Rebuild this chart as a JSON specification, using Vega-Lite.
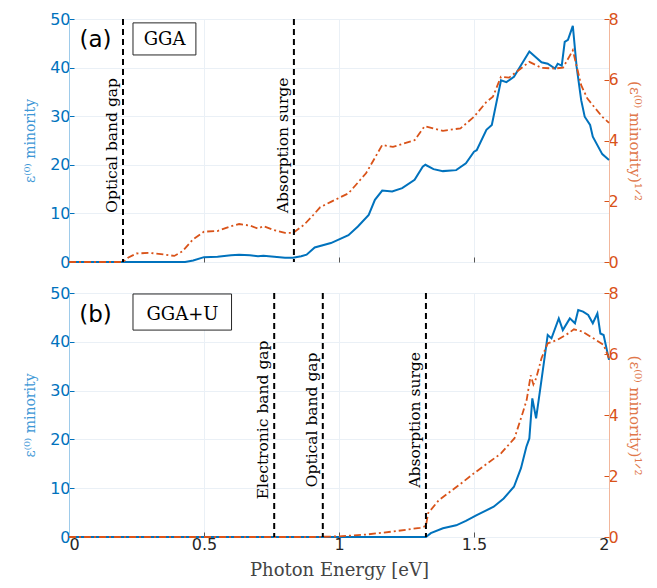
{
  "$schema": "https://vega.github.io/schema/vega-lite/v6.json",
  "padding": {"left": 23, "top": 10, "right": 2, "bottom": 0},
  "background": "white",
  "spacing": 13,
  "config": {
    "view": {"stroke": "#9a9a9a", "strokeWidth": 1},
    "axis": {"labelFont": "DejaVu Sans", "labelFontSize": 16, "grid": false, "tickSize": -5, "labelPadding": 4}
  },
  "datasets": {
    "a_blue": [
      {"E":0,"v":0},{"E":0.2,"v":0},{"E":0.43,"v":0},{"E":0.46,"v":0.3},{"E":0.5,"v":1.0},{"E":0.55,"v":1.1},{"E":0.6,"v":1.4},{"E":0.63,"v":1.5},{"E":0.67,"v":1.4},{"E":0.7,"v":1.2},{"E":0.72,"v":1.3},{"E":0.76,"v":1.1},{"E":0.8,"v":0.9},{"E":0.83,"v":0.9},{"E":0.86,"v":1.2},{"E":0.88,"v":1.5},{"E":0.91,"v":3.0},{"E":0.97,"v":3.9},{"E":1.035,"v":5.5},{"E":1.07,"v":7.3},{"E":1.11,"v":9.7},{"E":1.133,"v":12.8},{"E":1.16,"v":14.7},{"E":1.197,"v":14.5},{"E":1.234,"v":15.2},{"E":1.28,"v":16.9},{"E":1.31,"v":19.6},{"E":1.32,"v":20},{"E":1.35,"v":19.1},{"E":1.385,"v":18.7},{"E":1.434,"v":18.9},{"E":1.47,"v":20.3},{"E":1.5,"v":22.7},{"E":1.51,"v":23},{"E":1.546,"v":27.2},{"E":1.566,"v":28.2},{"E":1.6,"v":37.4},{"E":1.62,"v":37},{"E":1.648,"v":38.1},{"E":1.705,"v":43.3},{"E":1.75,"v":41.1},{"E":1.773,"v":40.8},{"E":1.8,"v":39.8},{"E":1.81,"v":40.8},{"E":1.825,"v":40.4},{"E":1.836,"v":45.3},{"E":1.848,"v":45.7},{"E":1.866,"v":48.6},{"E":1.88,"v":40.2},{"E":1.897,"v":33.3},{"E":1.91,"v":29.9},{"E":1.93,"v":28.2},{"E":1.94,"v":25.8},{"E":1.975,"v":22.2},{"E":2.0,"v":21}
    ],
    "a_orange": [
      {"E":0,"s":0},{"E":0.2,"s":0},{"E":0.22,"s":0.15},{"E":0.25,"s":0.28},{"E":0.3,"s":0.3},{"E":0.35,"s":0.25},{"E":0.39,"s":0.2},{"E":0.42,"s":0.35},{"E":0.46,"s":0.75},{"E":0.5,"s":1.0},{"E":0.55,"s":1.02},{"E":0.6,"s":1.18},{"E":0.63,"s":1.25},{"E":0.67,"s":1.2},{"E":0.7,"s":1.1},{"E":0.72,"s":1.18},{"E":0.76,"s":1.05},{"E":0.8,"s":0.96},{"E":0.83,"s":0.96},{"E":0.87,"s":1.22},{"E":0.9,"s":1.5},{"E":0.93,"s":1.8},{"E":0.97,"s":1.98},{"E":1.035,"s":2.26},{"E":1.1,"s":2.92},{"E":1.16,"s":3.85},{"E":1.2,"s":3.79},{"E":1.28,"s":4.01},{"E":1.317,"s":4.47},{"E":1.385,"s":4.32},{"E":1.45,"s":4.4},{"E":1.5,"s":4.78},{"E":1.546,"s":5.27},{"E":1.57,"s":5.44},{"E":1.6,"s":6.1},{"E":1.63,"s":6.07},{"E":1.705,"s":6.59},{"E":1.75,"s":6.39},{"E":1.8,"s":6.37},{"E":1.83,"s":6.4},{"E":1.866,"s":6.97},{"E":1.897,"s":5.82},{"E":1.92,"s":5.38},{"E":1.975,"s":4.78},{"E":2.0,"s":4.58}
    ],
    "b_blue": [
      {"E":0,"v":0},{"E":1.322,"v":0},{"E":1.34,"v":0.8},{"E":1.385,"v":1.8},{"E":1.434,"v":2.4},{"E":1.47,"v":3.3},{"E":1.51,"v":4.5},{"E":1.573,"v":6.2},{"E":1.61,"v":7.9},{"E":1.648,"v":10.3},{"E":1.674,"v":14.1},{"E":1.694,"v":18.5},{"E":1.705,"v":20.2},{"E":1.716,"v":28.4},{"E":1.73,"v":24.3},{"E":1.75,"v":32.2},{"E":1.773,"v":41.4},{"E":1.787,"v":40.7},{"E":1.814,"v":44.8},{"E":1.829,"v":42.4},{"E":1.855,"v":44.8},{"E":1.874,"v":43.8},{"E":1.886,"v":46.5},{"E":1.904,"v":46.2},{"E":1.923,"v":45.5},{"E":1.94,"v":43.8},{"E":1.957,"v":45.8},{"E":1.968,"v":41.7},{"E":1.98,"v":41.4},{"E":2.0,"v":36.3}
    ],
    "b_orange": [
      {"E":0,"s":0},{"E":0.9,"s":0},{"E":1.0,"s":0.02},{"E":1.1,"s":0.08},{"E":1.2,"s":0.18},{"E":1.3,"s":0.3},{"E":1.322,"s":0.36},{"E":1.33,"s":0.78},{"E":1.37,"s":1.21},{"E":1.45,"s":1.74},{"E":1.5,"s":2.09},{"E":1.6,"s":2.74},{"E":1.65,"s":3.24},{"E":1.68,"s":4.06},{"E":1.695,"s":4.49},{"E":1.71,"s":5.3},{"E":1.72,"s":5.0},{"E":1.73,"s":5.2},{"E":1.75,"s":5.86},{"E":1.773,"s":6.35},{"E":1.79,"s":6.4},{"E":1.81,"s":6.47},{"E":1.85,"s":6.68},{"E":1.87,"s":6.81},{"E":1.9,"s":6.74},{"E":1.95,"s":6.47},{"E":1.98,"s":6.3},{"E":2.0,"s":5.86}
    ],
    "a_lines": [
      {"E":0.2,"v":24,"label":"Optical band gap"},
      {"E":0.833,"v":24,"label":"Absorption surge"}
    ],
    "b_lines": [
      {"E":0.76,"v":24,"label":"Electronic band gap"},
      {"E":0.94,"v":24,"label":"Optical band gap"},
      {"E":1.322,"v":24,"label":"Absorption surge"}
    ],
    "a_tags": [{"E":0.098,"v":45.7,"x1":0.237,"x2":0.47,"y1":42.6,"y2":49.2,"bx":0.354,"tag":"(a)","name":"GGA"}],
    "b_tags": [{"E":0.098,"v":45.4,"x1":0.237,"x2":0.602,"y1":42.4,"y2":49.8,"bx":0.42,"tag":"(b)","name":"GGA+U"}]
  },
  "vconcat": [
    {
      "width": 540,
      "height": 243,
      "resolve": {"scale": {"y": "independent"}, "axis": {"y": "independent"}},
      "layer": [
        {
          "data": {"name": "a_blue"},
          "mark": {"type": "line", "color": "#0072BD", "strokeWidth": 2},
          "encoding": {
            "x": {"field": "E", "type": "quantitative", "scale": {"domain": [0, 2]},
                  "axis": {"values": [0, 0.5, 1, 1.5, 2], "labels": false, "labelPadding": 0, "title": null, "grid": true, "gridColor": "#eaf0f6", "domain": false, "tickColor": "#555"}},
            "y": {"field": "v", "type": "quantitative", "scale": {"domain": [0, 50]},
                  "axis": {"orient": "left", "values": [0, 10, 20, 30, 40, 50], "title": "ε⁽⁰⁾ minority", "titleFont": "DejaVu Serif", "titleFontSize": 14, "titleFontWeight": "normal", "titleColor": "#3d97d6", "titlePadding": 12, "labelColor": "#0072BD", "domainColor": "#9ecbea", "tickColor": "#0072BD", "grid": true, "gridColor": "#eaf0f6"}}
          }
        },
        {
          "data": {"name": "a_orange"},
          "mark": {"type": "line", "color": "#D95319", "strokeWidth": 1.8, "strokeDash": [7, 3, 2, 3]},
          "encoding": {
            "x": {"field": "E", "type": "quantitative"},
            "y": {"field": "s", "type": "quantitative", "scale": {"domain": [0, 8]},
                  "axis": {"orient": "right", "values": [0, 2, 4, 6, 8], "title": "(ε⁽⁰⁾ minority)¹ᐟ²", "titleFont": "DejaVu Serif", "titleFontSize": 15, "titleFontWeight": "normal", "titleColor": "#e0774a", "titlePadding": 8, "labelColor": "#D95319", "domainColor": "#f2b79c", "tickColor": "#D95319"}}
          }
        },
        {
          "data": {"name": "a_lines"},
          "mark": {"type": "rule", "color": "black", "strokeWidth": 2, "strokeDash": [6, 4]},
          "encoding": {"x": {"field": "E", "type": "quantitative"}}
        },
        {
          "data": {"name": "a_lines"},
          "mark": {"type": "text", "angle": 270, "align": "center", "baseline": "bottom", "dy": -3, "font": "DejaVu Serif", "fontSize": 15.5, "color": "black"},
          "encoding": {
            "x": {"field": "E", "type": "quantitative"},
            "y": {"field": "v", "type": "quantitative", "scale": {"domain": [0, 50]}, "axis": null},
            "text": {"field": "label"}
          }
        },
        {
          "data": {"name": "a_tags"},
          "mark": {"type": "rect", "fill": "white", "stroke": "#262626", "strokeWidth": 1},
          "encoding": {
            "x": {"field": "x1", "type": "quantitative"},
            "x2": {"field": "x2"},
            "y": {"field": "y1", "type": "quantitative", "scale": {"domain": [0, 50]}, "axis": null},
            "y2": {"field": "y2"}
          }
        },
        {
          "data": {"name": "a_tags"},
          "mark": {"type": "text", "font": "DejaVu Serif", "fontSize": 18, "color": "black", "align": "center", "baseline": "middle"},
          "encoding": {
            "x": {"field": "bx", "type": "quantitative"},
            "y": {"field": "v", "type": "quantitative", "scale": {"domain": [0, 50]}, "axis": null},
            "text": {"field": "name"}
          }
        },
        {
          "data": {"name": "a_tags"},
          "mark": {"type": "text", "font": "DejaVu Sans", "fontSize": 23, "color": "black", "align": "center", "baseline": "middle"},
          "encoding": {
            "x": {"field": "E", "type": "quantitative"},
            "y": {"field": "v", "type": "quantitative", "scale": {"domain": [0, 50]}, "axis": null},
            "text": {"field": "tag"}
          }
        }
      ]
    },
    {
      "width": 540,
      "height": 244,
      "resolve": {"scale": {"y": "independent"}, "axis": {"y": "independent"}},
      "layer": [
        {
          "data": {"name": "b_blue"},
          "mark": {"type": "line", "color": "#0072BD", "strokeWidth": 2},
          "encoding": {
            "x": {"field": "E", "type": "quantitative", "scale": {"domain": [0, 2]},
                  "axis": {"values": [0, 0.5, 1, 1.5, 2], "labelExpr": "datum.value == 0 ? '0' : datum.value == 1 ? '1' : datum.value == 2 ? '2' : format(datum.value, '.1f')", "labelColor": "#262626", "title": "Photon Energy [eV]", "titleFont": "DejaVu Serif", "titleFontSize": 18, "titleFontWeight": "normal", "titleColor": "#444", "titlePadding": 9, "labelPadding": 4, "grid": true, "gridColor": "#eaf0f6", "domain": false, "tickColor": "#555"}},
            "y": {"field": "v", "type": "quantitative", "scale": {"domain": [0, 50]},
                  "axis": {"orient": "left", "values": [0, 10, 20, 30, 40, 50], "title": "ε⁽⁰⁾ minority", "titleFont": "DejaVu Serif", "titleFontSize": 14, "titleFontWeight": "normal", "titleColor": "#3d97d6", "titlePadding": 12, "labelColor": "#0072BD", "domainColor": "#9ecbea", "tickColor": "#0072BD", "grid": true, "gridColor": "#eaf0f6"}}
          }
        },
        {
          "data": {"name": "b_orange"},
          "mark": {"type": "line", "color": "#D95319", "strokeWidth": 1.8, "strokeDash": [7, 3, 2, 3]},
          "encoding": {
            "x": {"field": "E", "type": "quantitative"},
            "y": {"field": "s", "type": "quantitative", "scale": {"domain": [0, 8]},
                  "axis": {"orient": "right", "values": [0, 2, 4, 6, 8], "title": "(ε⁽⁰⁾ minority)¹ᐟ²", "titleFont": "DejaVu Serif", "titleFontSize": 15, "titleFontWeight": "normal", "titleColor": "#e0774a", "titlePadding": 8, "labelColor": "#D95319", "domainColor": "#f2b79c", "tickColor": "#D95319"}}
          }
        },
        {
          "data": {"name": "b_lines"},
          "mark": {"type": "rule", "color": "black", "strokeWidth": 2, "strokeDash": [6, 4]},
          "encoding": {"x": {"field": "E", "type": "quantitative"}}
        },
        {
          "data": {"name": "b_lines"},
          "mark": {"type": "text", "angle": 270, "align": "center", "baseline": "bottom", "dy": -3, "font": "DejaVu Serif", "fontSize": 15.5, "color": "black"},
          "encoding": {
            "x": {"field": "E", "type": "quantitative"},
            "y": {"field": "v", "type": "quantitative", "scale": {"domain": [0, 50]}, "axis": null},
            "text": {"field": "label"}
          }
        },
        {
          "data": {"name": "b_tags"},
          "mark": {"type": "rect", "fill": "white", "stroke": "#262626", "strokeWidth": 1},
          "encoding": {
            "x": {"field": "x1", "type": "quantitative"},
            "x2": {"field": "x2"},
            "y": {"field": "y1", "type": "quantitative", "scale": {"domain": [0, 50]}, "axis": null},
            "y2": {"field": "y2"}
          }
        },
        {
          "data": {"name": "b_tags"},
          "mark": {"type": "text", "font": "DejaVu Serif", "fontSize": 18, "color": "black", "align": "center", "baseline": "middle"},
          "encoding": {
            "x": {"field": "bx", "type": "quantitative"},
            "y": {"field": "v", "type": "quantitative", "scale": {"domain": [0, 50]}, "axis": null},
            "text": {"field": "name"}
          }
        },
        {
          "data": {"name": "b_tags"},
          "mark": {"type": "text", "font": "DejaVu Sans", "fontSize": 23, "color": "black", "align": "center", "baseline": "middle"},
          "encoding": {
            "x": {"field": "E", "type": "quantitative"},
            "y": {"field": "v", "type": "quantitative", "scale": {"domain": [0, 50]}, "axis": null},
            "text": {"field": "tag"}
          }
        }
      ]
    }
  ]
}
